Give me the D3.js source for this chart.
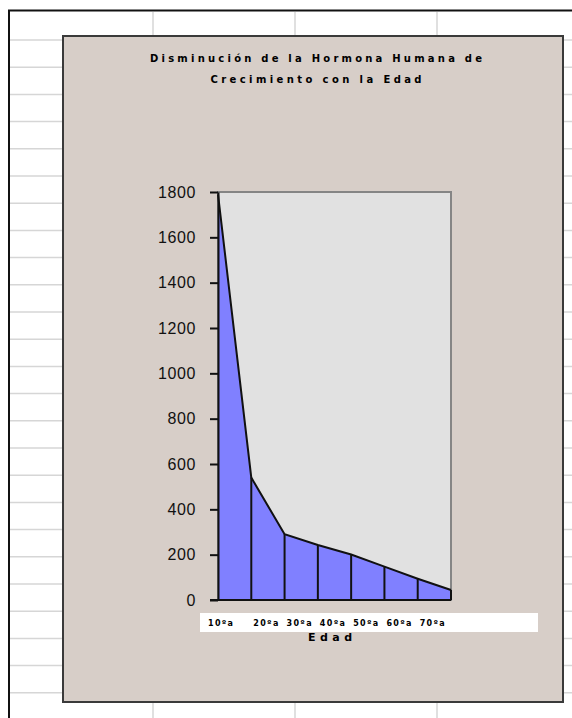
<!DOCTYPE html>
<html>
<head>
<meta charset="utf-8">
<script src="https://cdn.jsdelivr.net/npm/d3@7"></script>
<style>
  body { margin: 0; background: #fff; }
  svg { display: block; }
</style>
</head>
<body>
<svg id="chart"></svg>
<script>
// data
const titleLines = ["Disminución de la Hormona Humana de", "Crecimiento con la Edad"];
const xTitle = "Edad";
const ageLabels = ["10ºa", "20ºa", "30ºa", "40ºa", "50ºa", "60ºa", "70ºa"];
const hormone = [1790, 540, 290, 243, 201, 147, 94, 44];
const yTicks = [0, 200, 400, 600, 800, 1000, 1200, 1400, 1600, 1800];

const W = 572, H = 718;
const svg = d3.select("#chart").attr("width", W).attr("height", H);

// spreadsheet behind the chart
const rowLines = d3.range(25).map(i => 40 + i * 27.2);
svg.selectAll(".row").data(rowLines).enter()
   .append("line").attr("class", "row")
   .attr("x1", 10).attr("x2", W)
   .attr("y1", d => d).attr("y2", d => d)
   .attr("stroke", "#d6d6d6").attr("stroke-width", 1.5);
svg.selectAll(".col").data([153, 295, 437]).enter()
   .append("line").attr("class", "col")
   .attr("x1", d => d).attr("x2", d => d)
   .attr("y1", 12).attr("y2", H)
   .attr("stroke", "#d6d6d6").attr("stroke-width", 1.5);
svg.append("line").attr("x1", 8).attr("x2", W).attr("y1", 10.5).attr("y2", 10.5)
   .attr("stroke", "#111").attr("stroke-width", 2);
svg.append("line").attr("x1", 9).attr("x2", 9).attr("y1", 10).attr("y2", H)
   .attr("stroke", "#111").attr("stroke-width", 2);

// chart box
svg.append("rect").attr("x", 63).attr("y", 36).attr("width", 500).attr("height", 666)
   .attr("fill", "#d7cec8").attr("stroke", "#3a3a3a").attr("stroke-width", 2);

svg.selectAll(".title").data(titleLines).enter()
   .append("text").attr("class", "title")
   .attr("x", 316).attr("y", (d, i) => 62 + i * 21)
   .attr("text-anchor", "middle")
   .attr("textLength", (d, i) => i === 0 ? 332 : 211)
   .attr("lengthAdjust", "spacing")
   .style("font-family", "'DejaVu Sans', sans-serif")
   .style("font-size", "10px").style("font-weight", "bold")
   .text(d => d);

// plot area
const pLeft = 218, pRight = 451, pTop = 192, pBottom = 600;
const y = d3.scaleLinear().domain([0, 1800]).range([pBottom, pTop]);
const x = d3.scalePoint().domain(d3.range(hormone.length)).range([pLeft, pRight]);

svg.append("rect").attr("x", pLeft).attr("y", pTop)
   .attr("width", pRight - pLeft).attr("height", pBottom - pTop)
   .attr("fill", "#e1e1e1").attr("stroke", "#858585").attr("stroke-width", 2);

const area = d3.area().x((d, i) => x(i)).y0(pBottom).y1(d => y(d));
svg.append("path").datum(hormone).attr("d", area)
   .attr("fill", "#8080ff").attr("stroke", "none");
svg.append("path").datum(hormone)
   .attr("d", d3.line().x((d, i) => x(i)).y(d => y(d)))
   .attr("fill", "none").attr("stroke", "#111").attr("stroke-width", 2);
svg.selectAll(".drop").data(hormone.slice(1)).enter()
   .append("line").attr("class", "drop")
   .attr("x1", (d, i) => x(i + 1)).attr("x2", (d, i) => x(i + 1))
   .attr("y1", d => y(d)).attr("y2", pBottom)
   .attr("stroke", "#111").attr("stroke-width", 2);

// axes
const yAxis = svg.append("g").attr("transform", `translate(${pLeft},0)`)
   .call(d3.axisLeft(y).tickValues(yTicks).tickFormat(d3.format("d"))
           .tickSize(8).tickPadding(14).tickSizeOuter(0));
yAxis.select(".domain").attr("stroke", "#111").attr("stroke-width", 2);
yAxis.selectAll(".tick line").attr("stroke", "#111").attr("stroke-width", 2);
yAxis.selectAll(".tick text")
   .style("font-family", "'Liberation Sans', Arial, sans-serif")
   .style("font-size", "16px").style("letter-spacing", "0.6px").attr("fill", "#111");

svg.append("line").attr("x1", pLeft - 8).attr("x2", pRight).attr("y1", pBottom).attr("y2", pBottom)
   .attr("stroke", "#111").attr("stroke-width", 2);

// axis title just under the label strip
svg.append("text").attr("x", 330).attr("y", 641).attr("text-anchor", "middle")
   .attr("textLength", 44).attr("lengthAdjust", "spacing")
   .style("font-family", "'DejaVu Sans', sans-serif")
   .style("font-size", "11px").style("font-weight", "bold")
   .text(xTitle);
svg.append("rect").attr("x", 200).attr("y", 613).attr("width", 338).attr("height", 19)
   .attr("fill", "#fff");
svg.selectAll(".xlab").data(ageLabels).enter()
   .append("text").attr("class", "xlab")
   .attr("x", (d, i) => x(i) + (i === 0 ? -10 : 2)).attr("y", 626)
   .attr("textLength", 25).attr("lengthAdjust", "spacing")
   .style("font-family", "'DejaVu Sans', sans-serif")
   .style("font-size", "8px").style("font-weight", "bold")
   .text(d => d);
</script>
</body>
</html>
